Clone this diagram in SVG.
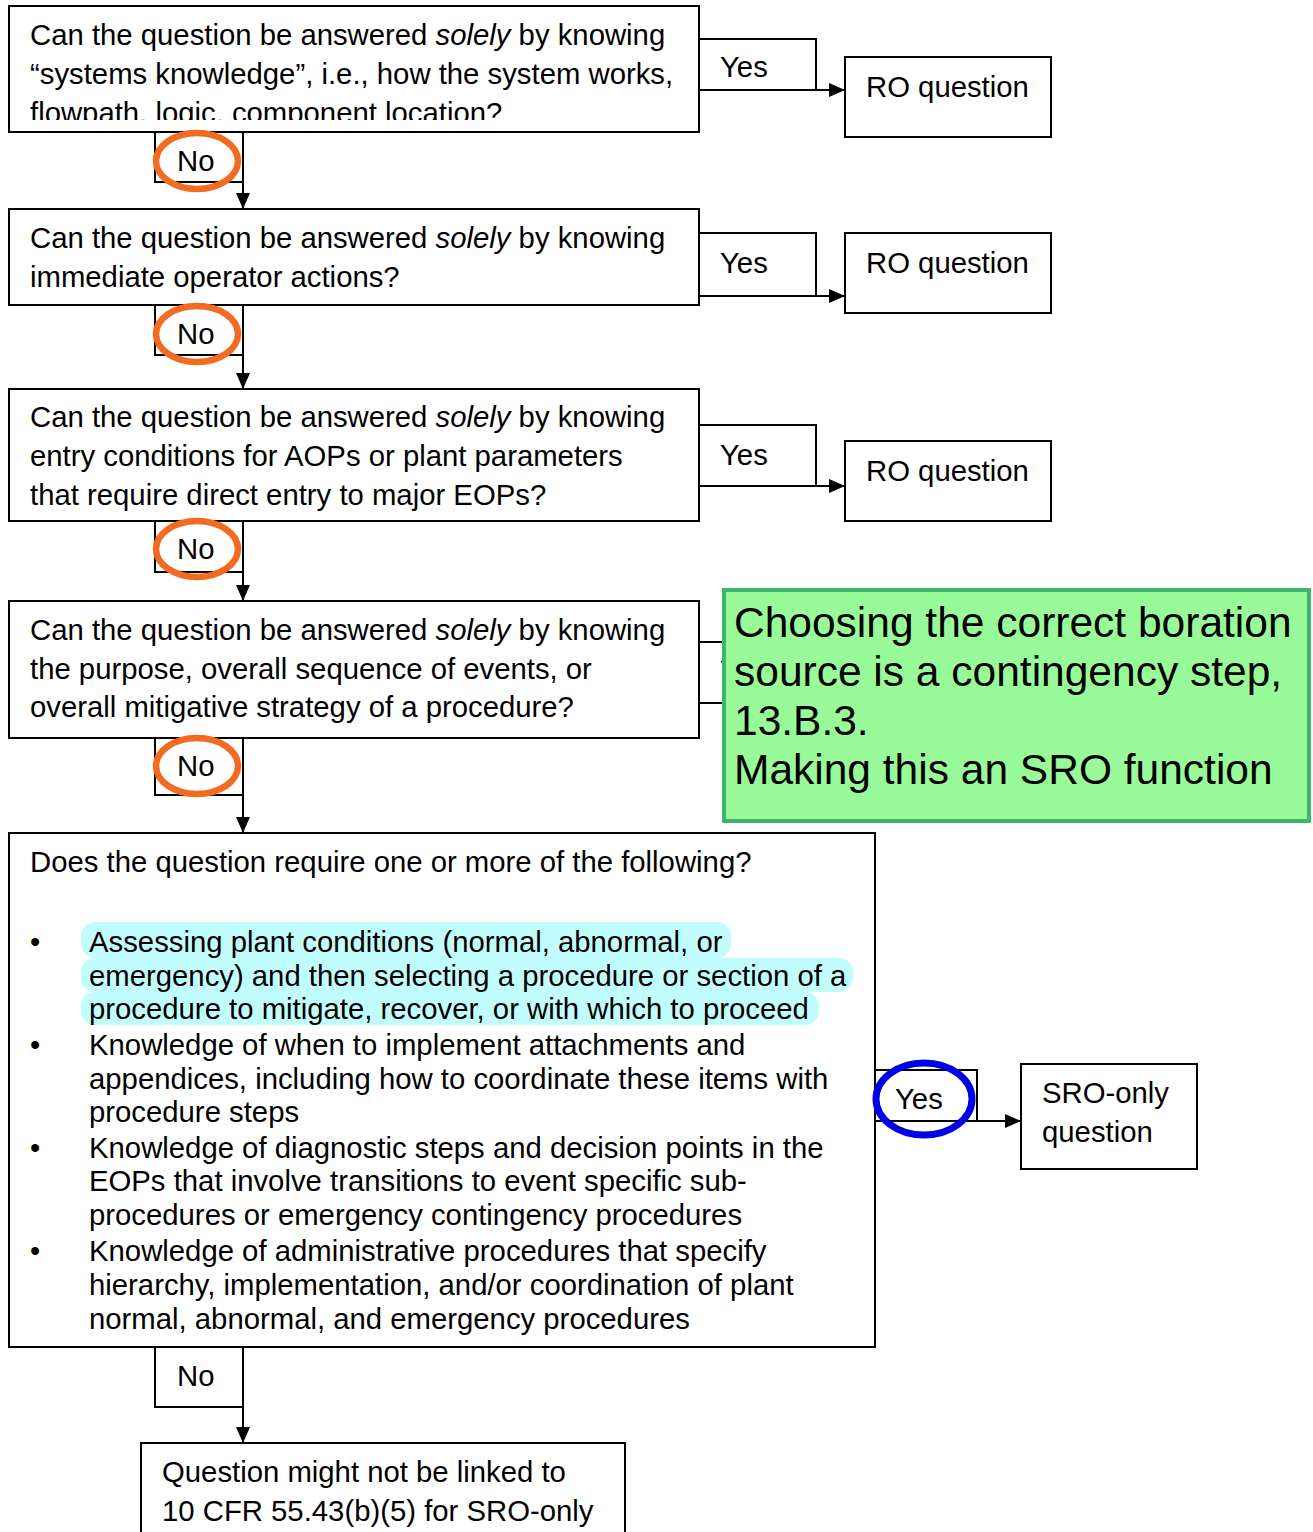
<svg xmlns="http://www.w3.org/2000/svg" width="1313" height="1532" viewBox="0 0 1313 1532">
  <defs>
    <style>
      .box { fill: #ffffff; stroke: #000000; stroke-width: 2; }
      .t { font-family: "Liberation Sans", Arial, sans-serif; font-size: 29.3px; fill: #000000; }
      .big { font-family: "Liberation Sans", Arial, sans-serif; font-size: 42.5px; fill: #000000; }
      .it { font-style: italic; }
      .wire { fill: none; stroke: #000000; stroke-width: 2; }
      .ring-o { fill: none; stroke: #f36b21; stroke-width: 6.5; }
      .ring-b { fill: none; stroke: #0000e6; stroke-width: 7; }
      .hl { fill: #c2fdfd; }
    </style>
    <marker id="arrow" viewBox="0 0 16 14" refX="16" refY="7" markerWidth="16" markerHeight="14" markerUnits="userSpaceOnUse" orient="auto">
      <path d="M0,0 L16,7 L0,14 Z" fill="#000000"/>
    </marker>
    <clipPath id="q1clip">
      <rect x="9" y="6" width="690" height="114"/>
    </clipPath>
  </defs>

  <!-- connectors -->
  <g id="connectors">
    <line class="wire" x1="243" y1="132" x2="243" y2="209" marker-end="url(#arrow)"/>
    <line class="wire" x1="243" y1="305" x2="243" y2="389" marker-end="url(#arrow)"/>
    <line class="wire" x1="243" y1="521" x2="243" y2="601" marker-end="url(#arrow)"/>
    <line class="wire" x1="243" y1="738" x2="243" y2="833" marker-end="url(#arrow)"/>
    <line class="wire" x1="243" y1="1347" x2="243" y2="1443" marker-end="url(#arrow)"/>
    <line class="wire" x1="699" y1="90" x2="845" y2="90" marker-end="url(#arrow)"/>
    <line class="wire" x1="699" y1="296" x2="845" y2="296" marker-end="url(#arrow)"/>
    <line class="wire" x1="699" y1="486" x2="845" y2="486" marker-end="url(#arrow)"/>
    <line class="wire" x1="875" y1="1121" x2="1021" y2="1121" marker-end="url(#arrow)"/>
  </g>

  <!-- question 1 -->
  <g id="q1">
    <rect class="box" x="9" y="6" width="690" height="126"/>
    <g clip-path="url(#q1clip)">
      <text class="t" x="30" y="45">Can the question be answered <tspan class="it">solely</tspan> by knowing</text>
      <text class="t" x="30" y="84">“systems knowledge”, i.e., how the system works,</text>
      <text class="t" x="30" y="123">flowpath, logic, component location?</text>
    </g>
  </g>
  <g id="q1-yes">
    <rect class="box" x="699" y="39" width="117" height="51"/>
    <text class="t" x="720" y="77">Yes</text>
  </g>
  <g id="ro1">
    <rect class="box" x="845" y="57" width="206" height="80"/>
    <text class="t" x="866" y="97">RO question</text>
  </g>
  <g id="q1-no">
    <rect class="box" x="155" y="132" width="88" height="50"/>
    <text class="t" x="177" y="171">No</text>
    <ellipse class="ring-o" cx="197" cy="161" rx="41" ry="28"/>
  </g>

  <!-- question 2 -->
  <g id="q2">
    <rect class="box" x="9" y="209" width="690" height="96"/>
    <text class="t" x="30" y="248">Can the question be answered <tspan class="it">solely</tspan> by knowing</text>
    <text class="t" x="30" y="287">immediate operator actions?</text>
  </g>
  <g id="q2-yes">
    <rect class="box" x="699" y="233" width="117" height="63"/>
    <text class="t" x="720" y="273">Yes</text>
  </g>
  <g id="ro2">
    <rect class="box" x="845" y="233" width="206" height="80"/>
    <text class="t" x="866" y="273">RO question</text>
  </g>
  <g id="q2-no">
    <rect class="box" x="155" y="305" width="88" height="50"/>
    <text class="t" x="177" y="344">No</text>
    <ellipse class="ring-o" cx="197" cy="334" rx="41" ry="28"/>
  </g>

  <!-- question 3 -->
  <g id="q3">
    <rect class="box" x="9" y="389" width="690" height="132"/>
    <text class="t" x="30" y="427">Can the question be answered <tspan class="it">solely</tspan> by knowing</text>
    <text class="t" x="30" y="466">entry conditions for AOPs or plant parameters</text>
    <text class="t" x="30" y="505">that require direct entry to major EOPs?</text>
  </g>
  <g id="q3-yes">
    <rect class="box" x="699" y="425" width="117" height="61"/>
    <text class="t" x="720" y="465">Yes</text>
  </g>
  <g id="ro3">
    <rect class="box" x="845" y="441" width="206" height="80"/>
    <text class="t" x="866" y="481">RO question</text>
  </g>
  <g id="q3-no">
    <rect class="box" x="155" y="521" width="88" height="51"/>
    <text class="t" x="177" y="559">No</text>
    <ellipse class="ring-o" cx="197" cy="549" rx="41" ry="28"/>
  </g>

  <!-- question 4 -->
  <g id="q4">
    <rect class="box" x="9" y="601" width="690" height="137"/>
    <text class="t" x="30" y="640">Can the question be answered <tspan class="it">solely</tspan> by knowing</text>
    <text class="t" x="30" y="679">the purpose, overall sequence of events, or</text>
    <text class="t" x="30" y="717">overall mitigative strategy of a procedure?</text>
  </g>
  <g id="q4-yes">
    <rect class="box" x="699" y="642" width="117" height="61"/>
    <text class="t" x="720" y="681">Yes</text>
  </g>
  <g id="q4-no">
    <rect class="box" x="155" y="738" width="88" height="57"/>
    <text class="t" x="177" y="776">No</text>
    <ellipse class="ring-o" cx="197" cy="766" rx="41" ry="28"/>
  </g>

  <!-- callout note, laid over the fourth question's Yes branch -->
  <g id="note">
    <rect x="724" y="590" width="585" height="231" fill="#98fa98" stroke="#3fb46e" stroke-width="4"/>
    <text class="big" x="734" y="637">Choosing the correct boration</text>
    <text class="big" x="734" y="686">source is a contingency step,</text>
    <text class="big" x="734" y="735">13.B.3.</text>
    <text class="big" x="734" y="784">Making this an SRO function</text>
  </g>

  <!-- question 5 -->
  <g id="q5">
    <rect class="box" x="9" y="833" width="866" height="514"/>
    <text class="t" x="30" y="872">Does the question require one or more of the following?</text>
    <rect class="hl" x="81" y="922" width="650" height="36" rx="14"/>
    <rect class="hl" x="81" y="958" width="772" height="34" rx="14"/>
    <rect class="hl" x="81" y="992" width="738" height="33" rx="14"/>
    <g class="t">
      <text x="30" y="952">•</text>
      <text x="89" y="952">Assessing plant conditions (normal, abnormal, or</text>
      <text x="89" y="986">emergency) and then selecting a procedure or section of a</text>
      <text x="89" y="1019">procedure to mitigate, recover, or with which to proceed</text>
      <text x="30" y="1055">•</text>
      <text x="89" y="1055">Knowledge of when to implement attachments and</text>
      <text x="89" y="1089">appendices, including how to coordinate these items with</text>
      <text x="89" y="1122">procedure steps</text>
      <text x="30" y="1158">•</text>
      <text x="89" y="1158">Knowledge of diagnostic steps and decision points in the</text>
      <text x="89" y="1191">EOPs that involve transitions to event specific sub-</text>
      <text x="89" y="1225">procedures or emergency contingency procedures</text>
      <text x="30" y="1261">•</text>
      <text x="89" y="1261">Knowledge of administrative procedures that specify</text>
      <text x="89" y="1295">hierarchy, implementation, and/or coordination of plant</text>
      <text x="89" y="1329">normal, abnormal, and emergency procedures</text>
    </g>
  </g>
  <g id="q5-yes">
    <rect class="box" x="875" y="1070" width="102" height="51"/>
    <text class="t" x="895" y="1109">Yes</text>
    <ellipse class="ring-b" cx="924" cy="1099" rx="48" ry="36"/>
  </g>
  <g id="sro">
    <rect class="box" x="1021" y="1064" width="176" height="105"/>
    <text class="t" x="1042" y="1103">SRO-only</text>
    <text class="t" x="1042" y="1142">question</text>
  </g>
  <g id="q5-no">
    <rect class="box" x="155" y="1347" width="88" height="60"/>
    <text class="t" x="177" y="1386">No</text>
  </g>

  <!-- final outcome -->
  <g id="outcome">
    <rect class="box" x="141" y="1443" width="484" height="100"/>
    <text class="t" x="162" y="1482">Question might not be linked to</text>
    <text class="t" x="162" y="1521">10 CFR 55.43(b)(5) for SRO-only</text>
  </g>
</svg>
